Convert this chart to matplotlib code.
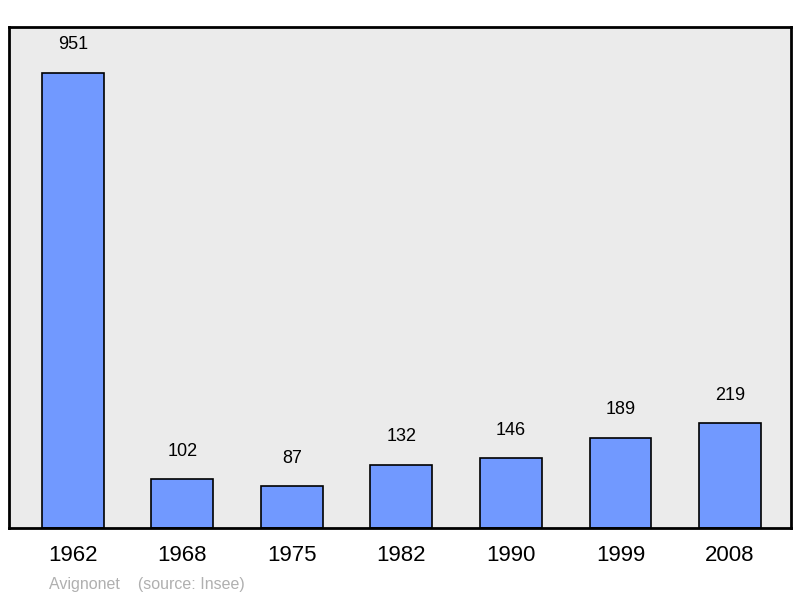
import matplotlib
matplotlib.use("Agg")
import matplotlib.pyplot as plt

years = ["1962", "1968", "1975", "1982", "1990", "1999", "2008"]
population = [951, 102, 87, 132, 146, 189, 219]

fig = plt.figure(figsize=(8, 5.98), dpi=100)
ax = fig.add_axes([9/800, 1-528/598, 782/800, 501/598])
ax.set_facecolor("#ebebeb")
x = list(range(len(years)))
ax.bar(x, population, width=0.566, color="#7199ff", edgecolor="black", linewidth=1.2, zorder=2)
for xi, v in zip(x, population):
    ax.annotate(str(v), (xi, v), xytext=(0, 14), textcoords="offset points",
                ha="center", va="bottom", fontsize=13, family="Liberation Sans")
ax.set_xlim(-0.584, 6.557)
ax.set_ylim(0, 1047)
ax.set_yticks([])
ax.set_xticks(x)
ax.set_xticklabels(years, fontsize=16, family="Liberation Sans")
ax.tick_params(axis="x", length=0, pad=12)
for s in ax.spines.values():
    s.set_linewidth(2)
fig.text(49/800, 1-584/598, "Avignonet    (source: Insee)", color="#b0b0b0",
         fontsize=11.5, family="Liberation Sans", va="center")
fig.savefig("out.png", dpi=100)
